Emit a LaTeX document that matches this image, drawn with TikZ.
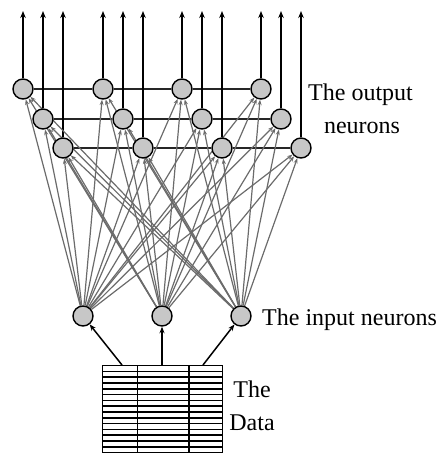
\documentclass[tikz,border=0pt]{standalone}
\usepackage{fontspec}
\setmainfont{Liberation Serif}
\usetikzlibrary{arrows.meta,backgrounds}
\begin{document}
\begin{tikzpicture}[x=1pt,y=-1pt,
  neuron/.style={circle,draw=black,line width=1.4pt,fill=black!22,minimum size=20pt,inner sep=0pt},
  link/.style={draw=black!58,line width=1.2pt,-{Stealth[length=5.5pt,width=4pt]}},
  outarrow/.style={draw=black,line width=1.8pt,-{Stealth[length=7pt,width=5.5pt]}},
  inarrow/.style={draw=black,line width=1.5pt,-{Stealth[length=6.5pt,width=5pt]}},
  rowline/.style={draw=black!85,line width=1.4pt},
  tabline/.style={draw=black,line width=1.6pt},
  lbl/.style={font=\fontsize{24}{33}\selectfont,inner sep=0pt}]
\useasboundingbox (0,0) rectangle (444,453);
\coordinate (top) at (0,11);
% output neurons
\foreach \g/\x in {1/23,2/103,3/182,4/261}{
  \node[neuron] (o\g1) at (\x,89) {};
  \node[neuron] (o\g2) at (\x+20,119) {};
  \node[neuron] (o\g3) at (\x+40,148) {};
}
% input neurons
\node[neuron] (i1) at (83,316) {};
\node[neuron] (i2) at (162,316) {};
\node[neuron] (i3) at (241,316) {};
% labels
\node[lbl,anchor=base west] (outlbl) at (308,100) {The output};
\node[lbl,anchor=base] (outlbl2) at (362,133) {neurons};
\node[lbl,anchor=base west] (inlbl) at (262,325) {The input neurons};
\node[lbl,anchor=base] (dlbl1) at (252,397) {The};
\node[lbl,anchor=base] (dlbl2) at (252,430) {Data};
% table
\foreach \k in {0,...,15}{
  \draw[tabline] (102.5,365.5+5.8*\k) -- (222.5,365.5+5.8*\k);
}
\foreach \xx in {102.5,137.5,189,222.5}{
  \draw[tabline] (\xx,365) -- (\xx,453);
}
\coordinate (t1) at (122,365);
\coordinate (t2) at (162,365);
\coordinate (t3) at (203,365);
\draw[inarrow] (t1) -- (i1);
\draw[inarrow] (t2) -- (i2);
\draw[inarrow] (t3) -- (i3);
\begin{pgfonlayer}{background}
  % row lines
  \foreach \r in {1,2,3}{
    \draw[rowline] (o1\r) -- (o2\r) -- (o3\r) -- (o4\r);
  }
  % output arrows
  \foreach \g in {1,2,3,4}{
    \foreach \r in {1,2,3}{
      \draw[outarrow] (o\g\r.north) -- (o\g\r.north |- top);
    }
  }
  % links
  \foreach \i in {1,2,3}{
    \foreach \g in {1,2,3,4}{
      \foreach \r in {1,2,3}{
        \draw[link] (i\i) -- (o\g\r);
      }
    }
  }
\end{pgfonlayer}
\end{tikzpicture}
\end{document}
